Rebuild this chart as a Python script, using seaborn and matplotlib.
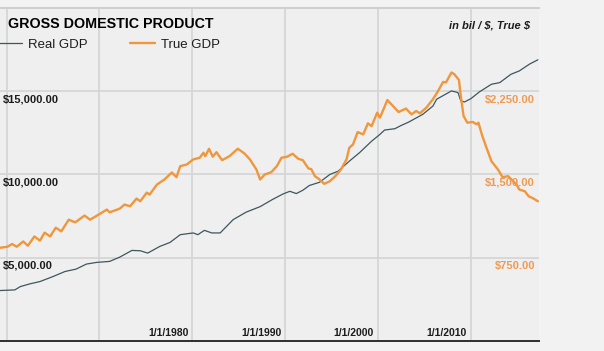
import matplotlib
matplotlib.use("Agg")
import matplotlib.pyplot as plt
import seaborn as sns

# Real GDP (bil $, left axis) and True GDP (right axis)
REAL_YEARS = [1959.3, 1960.9, 1961.5, 1962.5, 1963.6, 1965.0, 1966.3, 1967.5, 1968.6, 1969.7,
              1971.1, 1972.2, 1973.5, 1974.4, 1975.2, 1976.5, 1977.6, 1978.7, 1980.1, 1980.6,
              1981.3, 1982.1, 1983.0, 1984.4, 1985.8, 1987.3, 1988.6, 1989.8, 1990.5, 1991.2,
              1991.9, 1992.6, 1993.7, 1994.8, 1995.7, 1996.9, 1998.0, 1999.3, 2000.2, 2000.7,
              2001.8, 2002.5, 2003.3, 2004.8, 2005.9, 2006.3, 2007.9, 2008.6, 2008.9, 2009.3,
              2010.0, 2010.9, 2012.2, 2013.1, 2014.3, 2015.2, 2016.3, 2017.2]
REAL_GDP = [3030, 3070, 3270, 3430, 3570, 3870, 4175, 4320, 4620, 4720,
            4780, 5040, 5440, 5420, 5280, 5680, 5920, 6385, 6490, 6385,
            6645, 6490, 6490, 7290, 7740, 8070, 8490, 8840, 8990, 8855,
            9055, 9340, 9535, 10000, 10200, 10800, 11310, 12000, 12410, 12670,
            12750, 12950, 13150, 13610, 14110, 14520, 15020, 14920, 14420, 14355,
            14560, 14960, 15420, 15520, 16020, 16220, 16630, 16890]

TRUE_YEARS = [1959.3, 1960.1, 1960.6, 1961.1, 1961.8, 1962.3, 1963.0, 1963.6, 1964.1, 1964.7,
              1965.3, 1965.9, 1966.7, 1967.4, 1968.4, 1969.0, 1970.1, 1970.8, 1971.1, 1972.2,
              1972.7, 1973.3, 1974.0, 1974.4, 1975.1, 1975.4, 1976.2, 1977.0, 1977.8, 1978.3,
              1978.7, 1979.4, 1980.1, 1980.8, 1981.2, 1981.4, 1981.8, 1982.2, 1982.6, 1983.2,
              1984.0, 1984.9, 1985.6, 1986.2, 1986.9, 1987.3, 1987.8, 1988.5, 1989.1, 1989.6,
              1990.2, 1990.8, 1991.4, 1991.9, 1992.5, 1992.8, 1993.2, 1993.7, 1994.2, 1994.8,
              1995.4, 1996.0, 1996.6, 1996.9, 1997.3, 1997.8, 1998.4, 1998.9, 1999.3, 1999.9,
              2000.2, 2001.0, 2001.6, 2002.2, 2003.0, 2003.6, 2004.1, 2004.5, 2005.2, 2005.9,
              2006.4, 2007.0, 2007.3, 2007.9, 2008.2, 2008.7, 2008.9, 2009.2, 2009.6, 2010.2,
              2010.6, 2010.8, 2011.2, 2011.6, 2012.2, 2012.9, 2013.4, 2014.0, 2014.9, 2015.2,
              2015.8, 2016.2, 2016.6, 2017.2]
TRUE_GDP = [840, 849, 874, 849, 897, 858, 942, 904, 976, 942,
            1021, 988, 1093, 1069, 1130, 1093, 1148, 1184, 1159, 1193,
            1229, 1214, 1283, 1259, 1337, 1319, 1410, 1455, 1518, 1476,
            1575, 1590, 1636, 1651, 1696, 1665, 1732, 1660, 1701, 1629,
            1665, 1732, 1690, 1636, 1545, 1455, 1500, 1521, 1575, 1651,
            1660, 1687, 1642, 1629, 1554, 1549, 1485, 1455, 1416, 1439,
            1485, 1545, 1636, 1741, 1771, 1882, 1861, 1961, 1936, 2057,
            2012, 2171, 2117, 2063, 2094, 2042, 2072, 2051, 2103, 2178,
            2244, 2334, 2329, 2419, 2404, 2352, 2208, 2027, 1967, 1973,
            1952, 1967, 1852, 1756, 1620, 1545, 1476, 1485, 1410, 1364,
            1349, 1304, 1289, 1259]

LEFT_TICKS = [5000, 10000, 15000]
RIGHT_TICKS = [750, 1500, 2250]
GRID_YEARS = [1960, 1970, 1980, 1990, 2000, 2010]
LABEL_YEARS = [1980, 1990, 2000, 2010]

REAL_COLOR = "#3d575d"
TRUE_COLOR = "#f0963c"
TRUE_LABEL_COLOR = "#ef9a52"
TEXT_COLOR = "#1c1c1c"
GRID_COLOR = "#d6d6d6"

sns.set_style("white")
plt.rcParams["font.family"] = ["Liberation Sans", "DejaVu Sans"]

fig = plt.figure(figsize=(6.04, 3.51), dpi=100, facecolor="#f2f2f2")
ax = fig.add_axes([0, 10 / 351, 539 / 604, 333 / 351])
ax.set_facecolor("#efefef")
ax2 = ax.twinx()

sns.lineplot(x=REAL_YEARS, y=REAL_GDP, ax=ax, color=REAL_COLOR, linewidth=0.9,
             estimator=None, sort=False, label="Real GDP", legend=False)
sns.lineplot(x=TRUE_YEARS, y=TRUE_GDP, ax=ax2, color=TRUE_COLOR, linewidth=1.7,
             estimator=None, sort=False, label="True GDP", legend=False)
ax2.get_lines()[0].set_solid_joinstyle("round")

ax.set_xlim(1959.30, 2017.32)
ax.set_ylim(0, 20000)
ax2.set_ylim(0, 3000)

# grid
ax.set_xticks(GRID_YEARS)
ax.set_yticks(LEFT_TICKS)
ax.grid(True, color=GRID_COLOR, linewidth=1.3)
ax.set_axisbelow(True)
ax.tick_params(length=0, labelbottom=False, labelleft=False)
ax2.set_yticks([])
ax2.tick_params(length=0, labelright=False)
ax.set_xlabel("")
ax.set_ylabel("")
ax2.set_ylabel("")

for a in (ax, ax2):
    for side in ("left", "right"):
        a.spines[side].set_visible(False)
    a.spines["top"].set_color("#cfcfcf")
    a.spines["top"].set_linewidth(1.3)
    a.spines["bottom"].set_color("#333333")
    a.spines["bottom"].set_linewidth(1.4)

# axis labels inside the plot
for v in LEFT_TICKS:
    ax.annotate(f"${v:,.2f}", xy=(0, v), xycoords=("axes fraction", "data"),
                xytext=(3, -8), textcoords="offset pixels", ha="left", va="center",
                fontsize=8, fontweight="bold", color=TEXT_COLOR)
for v in RIGHT_TICKS:
    ax2.annotate(f"${v:,.2f}", xy=(1, v), xycoords=("axes fraction", "data"),
                 xytext=(-4, -8), textcoords="offset pixels", ha="right", va="center",
                 fontsize=8, fontweight="bold", color=TRUE_LABEL_COLOR)
for yr in LABEL_YEARS:
    ax.annotate(f"1/1/{yr}", xy=(yr, 0), xycoords=("data", "axes fraction"),
                xytext=(-4, 8), textcoords="offset pixels", ha="right", va="center",
                fontsize=7.5, fontweight="bold", color=TEXT_COLOR)

# legend
handles = ax.get_lines()[:1] + ax2.get_lines()[:1]
leg = ax.legend(handles, ["Real GDP", "True GDP"], loc="center left",
                bbox_to_anchor=(-0.006, (341 - 45) / 333), ncol=2, frameon=False,
                fontsize=9.5, handlelength=1.9, handletextpad=0.45,
                columnspacing=3.25, borderaxespad=0, borderpad=0)
for t in leg.get_texts():
    t.set_color(TEXT_COLOR)

fig.text(8 / 604, 1 - 24 / 351, "GROSS DOMESTIC PRODUCT", ha="left", va="center",
         fontsize=10.3, fontweight="bold", color="#000000")
fig.text(530 / 604, 1 - 26 / 351, r"in bil / \$, True \$", ha="right", va="center",
         fontsize=8, fontweight="bold", fontstyle="italic", color=TEXT_COLOR)

fig.savefig("out.png", dpi=100, facecolor=fig.get_facecolor())
